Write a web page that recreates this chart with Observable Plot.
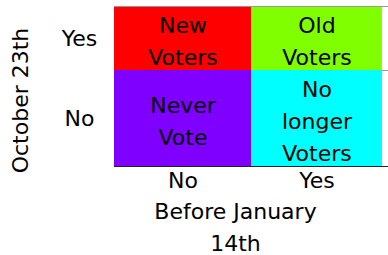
<!DOCTYPE html>
<html>
<head>
<meta charset="utf-8">
<script src="https://cdn.jsdelivr.net/npm/d3@7"></script>
<script src="https://cdn.jsdelivr.net/npm/@observablehq/plot@0.6"></script>
<style>
  html, body { margin: 0; padding: 0; background: #fff; }
</style>
</head>
<body>
<div id="chart"></div>
<script>
// Data (mosaic shares)
const colLabels = ["No", "Yes"];            // Before January 14th
const colWidths = [0.5, 0.478];             // share of width per column
const rowLabels = ["No", "Yes"];            // October 23th (bottom to top)
const rowHeights = [0.6, 0.394];            // share of height per row
const cellText = [
  ["Never\nVote", "No\nlonger\nVoters"],    // row "No": col No, col Yes
  ["New\nVoters", "Old\nVoters"]            // row "Yes"
];
const cellColors = [
  ["#8000ff", "#00ffff"],
  ["#ff0000", "#80ff00"]
];
const xTitle = "Before January\n14th";
const yTitle = "October 23th";

// Build cell table from the arrays
const xStart = d3.cumsum([0, ...colWidths]);
const yStart = d3.cumsum([0, ...rowHeights]);
const cells = [];
rowLabels.forEach((r, i) => colLabels.forEach((c, j) => {
  cells.push({
    row: r, col: c,
    x1: xStart[j], x2: xStart[j] + colWidths[j],
    y1: yStart[i], y2: yStart[i] + rowHeights[i],
    text: cellText[i][j], fill: cellColors[i][j]
  });
}));
const colMid = colLabels.map((c, j) => xStart[j] + colWidths[j] / 2);
const rowMid = rowLabels.map((r, i) => yStart[i] + rowHeights[i] / 2);
const totalW = d3.sum(colWidths);

const chart = Plot.plot({
  width: 388,
  height: 255,
  marginLeft: 114,
  marginRight: 0,
  marginTop: 6,
  marginBottom: 89,
  style: { fontFamily: "DejaVu Sans", fontSize: "22px", background: "#fff", color: "#000" },
  x: { domain: [0, 1], axis: null },
  y: { domain: [0, 1], axis: null },
  marks: [
    Plot.ruleY([1], { stroke: "#999", strokeWidth: 1 }),
    Plot.rect(cells, { x1: "x1", x2: "x2", y1: "y1", y2: "y2", fill: "fill" }),
    Plot.ruleY([rowHeights[0]], { x1: totalW, x2: 1, stroke: "#999" }),
    Plot.ruleY([0], { stroke: "#222", strokeWidth: 1.2 }),
    Plot.text(cells, {
      x: d => (d.x1 + d.x2) / 2, y: d => (d.y1 + d.y2) / 2, text: "text",
      lineAnchor: "middle", lineHeight: 1.45, fill: "#000", fontSize: 22
    }),
    Plot.axisX(colMid, {
      tickSize: 0, tickPadding: 6, label: null,
      tickFormat: d => colLabels[colMid.indexOf(d)], fontSize: 22
    }),
    Plot.axisY(rowMid, {
      tickSize: 0, tickPadding: 35, label: null, textAnchor: "middle",
      tickFormat: d => rowLabels[rowMid.indexOf(d)], fontSize: 22
    }),
    Plot.text([xTitle], {
      frameAnchor: "bottom", lineAnchor: "top", textAnchor: "middle",
      dy: 30, dx: -16, lineHeight: 1.45, fontSize: 22, fill: "#000"
    }),
    Plot.text([yTitle], {
      frameAnchor: "left", rotate: -90, textAnchor: "middle", lineAnchor: "middle",
      dx: -94, dy: 14, fontSize: 22, fill: "#000"
    })
  ]
});
document.getElementById("chart").appendChild(chart);
</script>
</body>
</html>
